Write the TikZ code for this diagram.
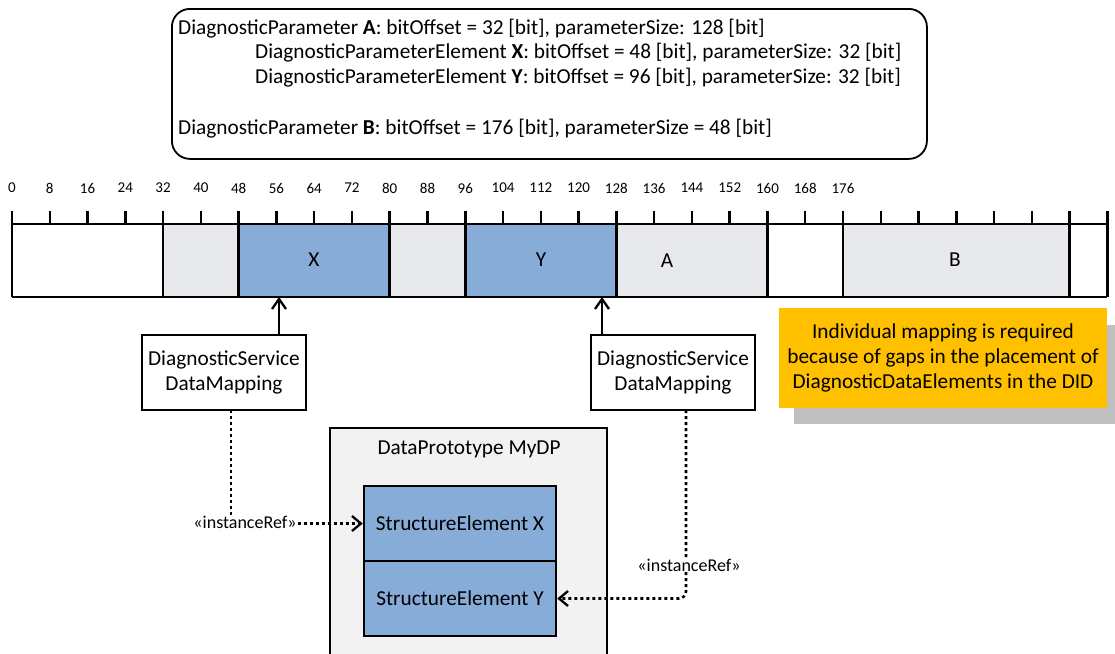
\documentclass[tikz,border=0pt]{standalone}
\usepackage{fontspec}
\setmainfont{Carlito}
\usetikzlibrary{arrows.meta}
\definecolor{paramgray}{HTML}{E8E9ED}
\definecolor{elblue}{HTML}{88ACD8}
\definecolor{noteyellow}{HTML}{FFC000}
\definecolor{shadowgray}{HTML}{BFBFBF}
\definecolor{dpgray}{HTML}{F2F2F2}
\begin{document}
\begin{tikzpicture}[x=1pt,y=-1pt,
  every node/.style={font=\fontsize{21.3}{25}\selectfont, inner sep=0pt},
  edge/.style={line width=2.5pt},
  mapbox/.style={draw, edge, fill=white, minimum width=164pt, minimum height=75pt, align=center},
  sebox/.style={draw, edge, fill=elblue, minimum width=192pt, minimum height=75pt},
  ruletick/.style={line width=2.5pt},
  numlabel/.style={font=\fontsize{15}{17}\selectfont},
  uparrow/.style={edge, -{Straight Barb[length=10pt,width=14pt,line width=2.3pt]}},
  refline/.style={line width=2.6pt, dash pattern=on 3pt off 3pt, -{Straight Barb[length=9pt,width=15pt,line width=2.3pt]}},
  reflabel/.style={font=\fontsize{18}{20}\selectfont, fill=white, inner sep=1pt}
]
\useasboundingbox (0,0) rectangle (1115,653);
% info box
\node[draw, line width=1.8pt, rounded corners=18pt, minimum width=755pt, minimum height=150pt, anchor=north west] (info) at (171,8) {};
\node[anchor=west] (l1) at (178,29) {DiagnosticParameter \textbf{A}: bitOffset = 32 [bit], parameterSize: 128 [bit]};
\node[anchor=west] (l2) at (255,53) {DiagnosticParameterElement \textbf{X}: bitOffset = 48 [bit], parameterSize: 32 [bit]};
\node[anchor=west] (l3) at (255,78) {DiagnosticParameterElement \textbf{Y}: bitOffset = 96 [bit], parameterSize: 32 [bit]};
\node[anchor=west] (l4) at (178,129) {DiagnosticParameter \textbf{B}: bitOffset = 176 [bit], parameterSize = 48 [bit]};
% ruler cells
\def\bu{4.7216}
\foreach \a/\b/\c in {0/32/white,32/48/paramgray,48/80/elblue,80/96/paramgray,96/128/elblue,128/160/paramgray,160/176/white,176/224/paramgray,224/232/white}{
  \fill[\c] ({12+\a*\bu},224) rectangle ({12+\b*\bu},297);
}
\draw[edge] (12,224) -- ({12+232*\bu},224);
\draw[edge] (12,297) -- ({12+232*\bu},297);
\foreach \a in {0,32,48,80,96,128,160,176,224,232}{
  \draw[edge] ({12+\a*\bu},224) -- ({12+\a*\bu},297);
}
\foreach \n in {0,8,...,232}{
  \draw[ruletick] ({12+\n*\bu},211) -- ({12+\n*\bu},224);
}
\foreach \n in {0,8,...,176}{
  \node[numlabel] (num\n) at ({12+\n*\bu},188) {\n};
}
\node (cX) at (314,260) {X};
\node (cY) at (541,260) {Y};
\node (cA) at (667,261) {A};
\node (cB) at (955,260) {B};
\coordinate (tX) at (279,297);
\coordinate (tY) at (602,297);
% mapping boxes
\node[mapbox] (mapL) at (224,372.5) {DiagnosticService\\DataMapping};
\node[mapbox] (mapR) at (673,372.5) {DiagnosticService\\DataMapping};
\draw[uparrow] (mapL.north -| tX) -- (tX);
\draw[uparrow] (mapR.north -| tY) -- (tY);
% note
\fill[shadowgray] (794,325) rectangle (1115,424);
\node[fill=noteyellow, minimum width=328pt, minimum height=100pt, align=center] (note) at (943,358) {Individual mapping is required\\because of gaps in the placement of\\DiagnosticDataElements in the DID};
% data prototype
\fill[dpgray] (330,428) rectangle (607,660);
\draw[edge] (330,660) -- (330,428) -- (607,428) -- (607,660);
\node (dpTitle) at (469,449) {DataPrototype MyDP};
\node[sebox] (sX) at (460,523.5) {StructureElement X};
\node[sebox] (sY) at (460,598.5) {StructureElement Y};
% instance refs
\coordinate (lref) at (231,410);
\coordinate (rref) at (686,410);
\draw[refline] (lref) |- (sX.west);
\node[reflabel] (refL) at (245,522) {«instanceRef»};
\draw[refline, rounded corners=7pt] (rref) |- (sY.east);
\node[reflabel] (refR) at (689,565) {«instanceRef»};
\end{tikzpicture}
\end{document}
